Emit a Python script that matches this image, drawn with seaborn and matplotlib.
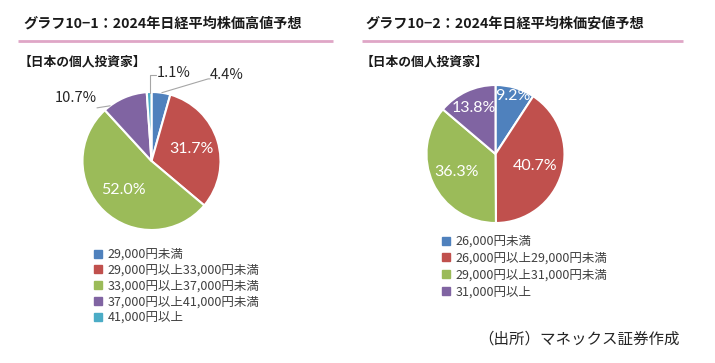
import numpy as np
import matplotlib
matplotlib.use("Agg")
import matplotlib.pyplot as plt
import seaborn as sns
from matplotlib.patches import Patch

# data
high_labels = ['29,000円未満', '29,000円以上33,000円未満', '33,000円以上37,000円未満',
               '37,000円以上41,000円未満', '41,000円以上']
high_values = [4.4, 31.7, 52.0, 10.7, 1.1]
low_labels = ['26,000円未満', '26,000円以上29,000円未満', '29,000円以上31,000円未満', '31,000円以上']
low_values = [9.2, 40.7, 36.3, 13.8]

title_high = 'グラフ10−1：2024年日経平均株価高値予想'
title_low = 'グラフ10−2：2024年日経平均株価安値予想'
subtitle = '【日本の個人投資家】'
source = '（出所）マネックス証券作成'

sns.set_theme(style="white")
plt.rcParams['font.family'] = ['Noto Sans CJK JP', 'DejaVu Sans']

colors = ['#4F81BD', '#C0504D', '#9BBB59', '#8064A2', '#4BACC6']
W, H = 715, 363
fig = plt.figure(figsize=(W / 100, H / 100), dpi=100)
fig.patch.set_facecolor('white')

# text layer in pixel coords
ax0 = fig.add_axes([0, 0, 1, 1])
ax0.set_xlim(0, W)
ax0.set_ylim(H, 0)
ax0.axis('off')

for x0, x1, tx, t in [(18, 333, 23, title_high), (362, 683, 365, title_low)]:
    ax0.text(tx, 24, t, fontsize=10.2, fontweight='bold', color='#1a1a1a', va='center', ha='left')
    ax0.plot([x0, x1], [40.5, 40.5], color='#DFA6C6', lw=2, solid_capstyle='butt')
    ax0.text(tx - 4, 62, subtitle, fontsize=9.2, fontweight='bold', color='#1a1a1a', va='center', ha='left')

ax0.text(478, 339, source, fontsize=11.2, color='#262626', va='center', ha='left')


def pie_axes(cx, cy, r):
    ax = fig.add_axes([(cx - r) / W, (H - cy - r) / H, 2 * r / W, 2 * r / H])
    ax.axis('off')
    return ax


def draw_pie(ax, values, dists, inside):
    wedges, _ = ax.pie(values, colors=colors[:len(values)], startangle=90, counterclock=False,
                       radius=1, wedgeprops=dict(edgecolor='white', linewidth=1.5))
    ax.set_xlim(-1, 1)
    ax.set_ylim(-1, 1)
    total = sum(values)
    start = 90.0
    for i, v in enumerate(values):
        mid = np.deg2rad(start - v / total * 180)
        start -= v / total * 360
        if inside[i]:
            ax.text(dists[i] * np.cos(mid), dists[i] * np.sin(mid), f'{v:.1f}%',
                    color='white', fontsize=11.5, family=['Lato', 'DejaVu Sans'],
                    ha='center', va='center')
    return wedges


# left pie
axl = pie_axes(151.5, 161, 69)
wl = draw_pie(axl, high_values, [0, 0.6, 0.58, 0, 0], [False, True, True, False, False])
lc = '#A6A6A6'
# outside labels with leader lines (pie coords)
axl.plot([-0.02, -0.02, 0.06], [0.99, 1.25, 1.25], color=lc, lw=0.8, clip_on=False)
axl.text(0.08, 1.27, f'{high_values[4]:.1f}%', fontsize=10.5, color='#262626', ha='left', va='center')
axl.plot([0.15, 0.82, 0.85], [0.99, 1.19, 1.19], color=lc, lw=0.8, clip_on=False)
axl.text(0.85, 1.24, f'{high_values[0]:.1f}%', fontsize=10.5, color='#262626', ha='left', va='center')
axl.plot([-0.79, -0.6], [0.77, 0.8], color=lc, lw=0.8, clip_on=False)
axl.text(-0.79, 0.91, f'{high_values[3]:.1f}%', fontsize=10.5, color='#262626', ha='right', va='center')

# right pie
axr = pie_axes(495.5, 154, 69)
wr = draw_pie(axr, low_values, [0.87, 0.6, 0.63, 0.73], [True] * 4)

leg_kw = dict(loc='upper left', frameon=False, borderpad=0, borderaxespad=0,
              handlelength=0.6, handleheight=0.6, handletextpad=0.5, fontsize=9,
              labelcolor='#404040')
h1 = [Patch(color=c) for c in colors[:5]]
fig.legend(h1, high_labels, bbox_to_anchor=(94 / W, 1 - 248 / H), labelspacing=0.22, **leg_kw)
h2 = [Patch(color=c) for c in colors[:4]]
fig.legend(h2, low_labels, bbox_to_anchor=(442 / W, 1 - 235 / H), labelspacing=0.3, **leg_kw)

fig.savefig('out.png', dpi=100, facecolor='white')
